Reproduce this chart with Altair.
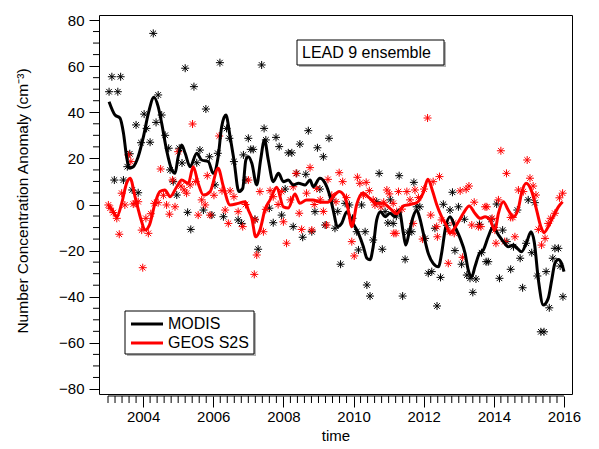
import numpy as np
import pandas as pd
import altair as alt

# ---------------------------------------------------------------------------
# MODIS monthly number-concentration anomalies (decimal year, cm^-3)
# ---------------------------------------------------------------------------
modis_time = [
    2003.03, 2003.11, 2003.18, 2003.28, 2003.36, 2003.44, 2003.55, 2003.62, 2003.69, 2003.80, 2003.86, 2003.94,
    2004.03, 2004.10, 2004.20, 2004.29, 2004.37, 2004.43, 2004.53, 2004.63, 2004.73, 2004.77, 2004.86, 2004.96,
    2005.03, 2005.11, 2005.20, 2005.27, 2005.36, 2005.45, 2005.53, 2005.62, 2005.72, 2005.79, 2005.89, 2005.96,
    2006.05, 2006.13, 2006.19, 2006.29, 2006.38, 2006.46, 2006.59, 2006.71, 2006.81, 2006.86, 2006.93,
    2007.00, 2007.07, 2007.14, 2007.19, 2007.28, 2007.38, 2007.45, 2007.50, 2007.60, 2007.71, 2007.79, 2007.88, 2007.95,
    2008.05, 2008.14, 2008.24, 2008.28, 2008.38, 2008.47, 2008.55, 2008.64, 2008.71, 2008.81, 2008.90, 2008.97,
    2009.04, 2009.14, 2009.19, 2009.30, 2009.38, 2009.47, 2009.55, 2009.63, 2009.76, 2009.88, 2009.97,
    2010.09, 2010.14, 2010.23, 2010.33, 2010.38, 2010.47, 2010.56, 2010.66, 2010.73, 2010.82, 2010.90, 2010.98,
    2011.05, 2011.13, 2011.22, 2011.30, 2011.40, 2011.47, 2011.55, 2011.66, 2011.72, 2011.80, 2011.89,
    2012.04, 2012.13, 2012.23, 2012.32, 2012.38, 2012.48, 2012.56, 2012.66, 2012.75, 2012.82, 2012.89, 2012.99,
    2013.08, 2013.16, 2013.23, 2013.32, 2013.40, 2013.49, 2013.59, 2013.65, 2013.78, 2013.84, 2013.92,
    2014.01, 2014.08, 2014.16, 2014.25, 2014.37, 2014.48, 2014.56, 2014.67, 2014.75, 2014.82, 2014.92, 2014.98,
    2015.08, 2015.17, 2015.24, 2015.34, 2015.43, 2015.49, 2015.58, 2015.68, 2015.74, 2015.84, 2015.89, 2015.97,
]
modis_value = [
    48.9, 55.4, 10.6, 48.9, 55.4, 10.6, 16.4, 22.0, 6.3, 34.5, 5.1, 26.8,
    39.2, 33.0, 27.0, 74.2, 35.6, 47.5, 38.8, 30.0, 24.4, 15.0, 9.9, 4.1,
    24.4, 18.0, 59.1, -3.4, -10.8, 51.1, 18.1, 23.6, -2.4, 41.4, 20.7, -4.6,
    8.5, 22.2, 61.5, -5.3, 33.0, 28.7, 18.6, -6.7, -8.2, 21.5, 10.6,
    28.7, 23.9, 23.9, -6.4, -19.4, 60.5, 33.0, 28.0, -1.6, -7.9, 29.1, 25.1, -4.6,
    6.7, 22.4, 22.4, -9.6, 13.5, 26.2, -14.2, 13.1, 32.0, -11.8, -3.1, 24.6,
    6.7, 20.7, -8.9, 28.7, 2.0, -10.3, -3.0, -25.9, 0.5, -0.2, -6.0,
    -11.8, -19.7, -0.2, -11.8, -34.9, -39.7, -15.4, 1.2, 13.5, -19.4, -3.1, -8.0,
    2.0, -8.2, -5.0, 12.5, -39.7, -23.8, -12.0, -11.8, 9.6, -1.0, -1.0,
    -14.7, -29.8, -29.1, -10.3, -44.0, -31.6, 0.1, -9.0, -2.4, 5.3, -20.0, -1.0,
    -25.9, -6.4, -30.6, -32.0, -38.1, -32.3, -8.6, -20.9, -24.8, -24.8, -6.4,
    -10.0, 0.2, -32.0, -11.1, -16.1, -28.1, -18.3, -2.4, -23.3, -36.1, -16.8, 2.0,
    -20.9, 0.8, -31.0, -55.2, -55.2, -29.1, -44.8, -23.3, -19.0, -19.0, -26.7, -40.0,
]

# ---------------------------------------------------------------------------
# GEOS S2S lead-9 ensemble anomalies (decimal year, cm^-3)
# ---------------------------------------------------------------------------
geos_time = [
    2003.01, 2003.06, 2003.15, 2003.25, 2003.32, 2003.39, 2003.48, 2003.58, 2003.65, 2003.72, 2003.77, 2003.86, 2003.96, 2003.99,
    2004.08, 2004.15, 2004.22, 2004.32, 2004.43, 2004.50, 2004.58, 2004.67, 2004.75, 2004.84, 2004.91,
    2005.00, 2005.08, 2005.17, 2005.24, 2005.34, 2005.41, 2005.50, 2005.57, 2005.67, 2005.77, 2005.83, 2005.91,
    2006.02, 2006.17, 2006.25, 2006.34, 2006.43, 2006.48, 2006.59, 2006.71, 2006.84, 2006.92,
    2007.00, 2007.17, 2007.19, 2007.24, 2007.33, 2007.43, 2007.50, 2007.62, 2007.71, 2007.85, 2007.95,
    2008.00, 2008.09, 2008.20, 2008.28, 2008.36, 2008.45, 2008.52, 2008.66, 2008.76, 2008.81, 2008.88, 2008.95,
    2009.05, 2009.14, 2009.23, 2009.27, 2009.38, 2009.50, 2009.59, 2009.69, 2009.80, 2009.95,
    2010.02, 2010.11, 2010.18, 2010.28, 2010.36, 2010.45, 2010.56, 2010.61, 2010.78, 2010.86, 2010.95,
    2011.02, 2011.13, 2011.15, 2011.21, 2011.23, 2011.28, 2011.38, 2011.52, 2011.61, 2011.70, 2011.75, 2011.85, 2011.97,
    2012.01, 2012.11, 2012.20, 2012.27, 2012.37, 2012.39, 2012.45, 2012.51, 2012.70, 2012.75, 2012.85, 2012.87,
    2013.04, 2013.11, 2013.21, 2013.29, 2013.37, 2013.44, 2013.56, 2013.63, 2013.75, 2013.80, 2013.95,
    2014.03, 2014.06, 2014.13, 2014.20, 2014.31, 2014.36, 2014.48, 2014.54, 2014.60, 2014.70, 2014.84, 2014.95,
    2015.03, 2015.12, 2015.20, 2015.27, 2015.36, 2015.46, 2015.55, 2015.62, 2015.74, 2015.87, 2015.96,
]
geos_value = [
    -0.2, -1.6, -3.5, -6.0, -12.9, 4.9, -0.2, 21.5, 18.6, 0.2, 0.5, 1.2, -11.1, -27.4,
    -6.0, -12.5, -4.0, 0.5, 0.8, 15.4, 4.0, -0.2, -4.2, 10.6, -1.0,
    22.9, 8.0, 6.3, 4.9, 8.5, 34.9, 10.0, -4.6, 2.0, -0.2, 12.5, -4.6,
    4.0, 29.7, 6.0, -2.4, -8.2, 5.9, 3.4, -3.1, -9.6, 0.0,
    10.6, -30.3, -6.7, -21.9, 5.6, -11.8, -2.1, 6.0, 3.4, 0.0, 5.6,
    -7.5, -16.8, 2.0, 7.7, 13.5, -3.8, -10.8, 4.9, 16.0, -11.1, 0.0, 7.0,
    2.0, -3.0, -8.9, 10.9, 4.0, 1.2, 13.8, 9.9, 3.0, -16.1,
    -22.3, 11.8, 9.2, 4.0, 9.6, 6.0, 2.0, -0.2, -1.0, 1.0, 6.3,
    4.6, 0.5, -12.5, -12.5, -3.1, 5.6, -2.0, 5.6, 2.0, -8.2, 6.3, 3.0, -15.0,
    6.7, 37.5, -4.6, 9.9, -9.6, -14.0, 12.1, -6.7, -25.5, -11.8, -8.0, -12.5,
    5.9, -22.9, 6.6, 8.0, -8.9, 1.0, -9.6, -9.6, -1.0, -1.0, -6.0,
    -11.1, -16.8, 2.0, 23.3, -16.1, 13.5, -5.6, -5.6, -14.0, 6.3, 5.6, 19.3,
    11.4, 8.0, 4.1, -10.8, -17.6, -14.7, -8.2, -6.0, -3.8, 2.9, 4.9,
]

# ---------------------------------------------------------------------------
# Smoothed curves
# ---------------------------------------------------------------------------
modis_smooth_time = [
    2003.03, 2003.20, 2003.34, 2003.44, 2003.53, 2003.61, 2003.72, 2003.86, 2004.01, 2004.15,
    2004.31, 2004.43, 2004.53, 2004.67, 2004.82, 2004.91, 2005.00, 2005.10, 2005.20, 2005.34,
    2005.53, 2005.67, 2005.86, 2006.00, 2006.14, 2006.24, 2006.36, 2006.48, 2006.59, 2006.73,
    2006.84, 2006.93, 2007.00, 2007.10, 2007.24, 2007.35, 2007.46, 2007.57, 2007.71, 2007.86,
    2008.00, 2008.14, 2008.28, 2008.43, 2008.62, 2008.76, 2008.85, 2009.04, 2009.19, 2009.33,
    2009.42, 2009.54, 2009.66, 2009.81, 2009.90, 2009.99, 2010.14, 2010.28, 2010.38, 2010.47,
    2010.56, 2010.66, 2010.77, 2010.90, 2011.04, 2011.18, 2011.30, 2011.42, 2011.49, 2011.58,
    2011.70, 2011.80, 2011.89, 2011.99, 2012.13, 2012.27, 2012.42, 2012.51, 2012.61, 2012.75,
    2012.89, 2013.04, 2013.18, 2013.27, 2013.37, 2013.46, 2013.59, 2013.70, 2013.84, 2013.98,
    2014.13, 2014.27, 2014.41, 2014.56, 2014.67, 2014.79, 2014.94, 2015.06, 2015.15, 2015.27,
    2015.41, 2015.55, 2015.65, 2015.74, 2015.84, 2015.93, 2016.00,
]
modis_smooth_value = [
    44.6, 38.8, 37.5, 31.0, 20.7, 15.8, 16.4, 20.7, 29.4, 39.5,
    46.5, 42.4, 35.2, 23.6, 15.0, 13.5, 20.7, 25.8, 22.2, 16.4,
    22.2, 19.3, 18.6, 13.5, 20.7, 33.7, 38.8, 29.4, 19.3, 5.6,
    7.0, 19.3, 20.7, 17.9, 8.5, 19.3, 28.0, 19.3, 9.9, 13.5,
    9.9, 10.6, 8.5, 9.2, 8.5, 10.6, 7.7, 11.4, 9.2, 3.4,
    -2.4, -9.6, -8.2, -3.1, -5.3, -8.2, -12.5, -18.3, -23.3, -24.0,
    -18.3, -6.7, -3.1, -5.3, -3.8, -5.3, -2.4, -12.5, -17.6, -12.5,
    -5.3, -2.4, -6.0, -12.5, -21.2, -25.5, -27.0, -21.2, -11.1, -5.3,
    -9.6, -14.7, -21.2, -28.4, -31.3, -27.0, -21.2, -19.7, -14.0, -9.6,
    -13.2, -16.1, -18.3, -17.6, -19.0, -20.5, -16.1, -11.8, -16.1, -32.7,
    -43.6, -40.7, -32.7, -25.5, -23.8, -25.5, -29.1,
]

geos_smooth_time = [
    2003.03, 2003.15, 2003.25, 2003.39, 2003.53, 2003.63, 2003.77, 2003.86, 2003.96, 2004.05,
    2004.18, 2004.34, 2004.48, 2004.62, 2004.77, 2004.96, 2005.10, 2005.29, 2005.43, 2005.57,
    2005.72, 2005.91, 2006.14, 2006.29, 2006.48, 2006.71, 2006.91, 2007.00, 2007.10, 2007.21,
    2007.33, 2007.48, 2007.62, 2007.81, 2008.00, 2008.14, 2008.33, 2008.47, 2008.66, 2008.84,
    2009.07, 2009.27, 2009.42, 2009.59, 2009.76, 2009.85, 2009.95, 2010.09, 2010.26, 2010.44,
    2010.64, 2010.84, 2011.04, 2011.23, 2011.42, 2011.61, 2011.82, 2011.99, 2012.12, 2012.25,
    2012.37, 2012.51, 2012.66, 2012.75, 2012.84, 2012.99, 2013.13, 2013.30, 2013.46, 2013.61,
    2013.75, 2013.89, 2014.03, 2014.13, 2014.27, 2014.41, 2014.56, 2014.70, 2014.79, 2014.92,
    2015.08, 2015.22, 2015.34, 2015.43, 2015.55, 2015.69, 2015.84, 2015.96,
]
geos_smooth_value = [
    -0.5, -3.1, -5.3, 0.5, 9.2, 11.4, 3.4, -2.0, -7.5, -11.1,
    -8.9, 0.5, 5.6, 6.3, 3.4, 7.7, 10.6, 9.2, 16.4, 9.2,
    4.1, 5.6, 15.7, 7.7, -0.2, 0.5, 1.2, -2.4, -6.0, -14.0,
    -11.1, -2.0, 2.0, 7.5, -1.0, -1.5, 4.5, 0.5, 2.0, 2.0,
    1.0, 1.0, 3.4, 5.6, 3.0, -2.4, -9.6, 0.0, 5.0, 3.0,
    0.5, 0.5, -1.7, -4.0, -0.6, 0.0, 1.0, 5.2, 11.0, 6.0,
    0.0, -5.3, -9.6, -12.5, -11.1, -7.5, -3.8, -0.6, -3.8, -6.0,
    -5.3, -6.7, -11.1, -3.8, 1.2, -2.4, -5.3, -1.6, 4.9, 9.2,
    5.6, -2.4, -9.6, -12.2, -9.6, -5.3, -1.0, 1.2,
]

year_ticks = [2004, 2006, 2008, 2010, 2012, 2014, 2016]
value_ticks = [-80, -60, -40, -20, 0, 20, 40, 60, 80]

# minor ticks: every 0.2 yr along time, every 5 units along the anomaly axis
minor_years = [round(y, 1) for y in np.arange(2003.0, 2016.01, 0.2)
               if abs(y - round(y)) > 0.01 or int(round(y)) % 2 == 1]
minor_values = [v for v in range(-80, 81, 5) if v % 20 != 0]

FONT = "Liberation Sans"
W, H = 473, 379
ASTERISK = "M-1,0L1,0M0,-1L0,1M-0.7,-0.7L0.7,0.7M-0.7,0.7L0.7,-0.7"
Y_TITLE = "Number Concentration Anomaly (cm⁻³)"

x_scale = alt.Scale(domain=[2002.743, 2016.228], nice=False, zero=False)
y_scale = alt.Scale(domain=[-82.17, 82.17], nice=False, zero=False)

x_axis = alt.Axis(
    values=year_ticks, format="d", offset=2, domain=False, grid=False,
    tickSize=11, tickColor="black", tickWidth=1,
    labelFontSize=15, labelColor="black", labelPadding=2, labelFlush=False, labelFont=FONT,
    title="time", titleFontSize=15, titleFontWeight="normal", titleColor="black",
    titlePadding=4, titleFont=FONT,
)
y_axis = alt.Axis(
    values=value_ticks, domain=False, grid=False,
    tickSize=10, tickColor="black", tickWidth=1,
    labelFontSize=15, labelColor="black", labelPadding=5, labelFlush=False, labelFont=FONT,
    title=Y_TITLE, titleFontSize=15.5, titleFontWeight="normal",
    titleColor="black", titleFont=FONT, titleX=-77, titleY=H / 2 - 4,
    titleAlign="center", titleBaseline="middle", titleAngle=270,
)


def xy(field_x="t", field_y="v"):
    """Shared x/y encodings so every layer maps to the same scales and axes."""
    return dict(
        x=alt.X(f"{field_x}:Q", scale=x_scale, axis=x_axis, title="time"),
        y=alt.Y(f"{field_y}:Q", scale=y_scale, axis=y_axis, title=Y_TITLE),
    )


modis_df = pd.DataFrame({"t": modis_time, "v": modis_value})
geos_df = pd.DataFrame({"t": geos_time, "v": geos_value})
modis_smooth_df = pd.DataFrame({"t": modis_smooth_time, "v": modis_smooth_value})
geos_smooth_df = pd.DataFrame({"t": geos_smooth_time, "v": geos_smooth_value})

modis_pts = alt.Chart(modis_df).mark_point(
    shape=ASTERISK, size=64, filled=False, strokeWidth=1, color="black", opacity=1
).encode(**xy())

geos_pts = alt.Chart(geos_df).mark_point(
    shape=ASTERISK, size=64, filled=False, strokeWidth=1, color="#ff0000", opacity=1
).encode(**xy())

modis_line = alt.Chart(modis_smooth_df).mark_line(
    color="black", strokeWidth=3, interpolate="monotone"
).encode(**xy())

geos_line = alt.Chart(geos_smooth_df).mark_line(
    color="#ff0000", strokeWidth=3, interpolate="monotone"
).encode(**xy())

# minor ticks and the time-axis baseline
x_minor = alt.Chart(pd.DataFrame({"t": minor_years})).mark_rule(color="black", strokeWidth=1).encode(
    x=xy()["x"], y=alt.value(H + 2), y2=alt.value(H + 9),
)
x_base = alt.Chart(pd.DataFrame({"t": [2003], "b": [2016]})).mark_rule(color="black", strokeWidth=1).encode(
    x=xy()["x"], x2="b:Q", y=alt.value(H + 2),
)
y_minor = alt.Chart(pd.DataFrame({"v": minor_values})).mark_rule(color="black", strokeWidth=1).encode(
    y=xy()["y"], x=alt.value(-6), x2=alt.value(0),
)

# annotation boxes
one = pd.DataFrame({"k": [0]})


def box(x0, y0, x1, y1):
    shadow = alt.Chart(one).mark_rect(fill="#b4b4b4", strokeWidth=0).encode(
        x=alt.value(x0 + 2), x2=alt.value(x1 + 2), y=alt.value(y0 + 2), y2=alt.value(y1 + 2))
    face = alt.Chart(one).mark_rect(fill="white", stroke="black", strokeWidth=1).encode(
        x=alt.value(x0), x2=alt.value(x1), y=alt.value(y0), y2=alt.value(y1))
    return [shadow, face]


def label(txt, x, y, size=16):
    return alt.Chart(one).mark_text(
        text=txt, align="left", baseline="middle", fontSize=size, font=FONT, color="black"
    ).encode(x=alt.value(x), y=alt.value(y))


def swatch(color, y):
    return alt.Chart(one).mark_rule(color=color, strokeWidth=3).encode(
        x=alt.value(32), x2=alt.value(64), y=alt.value(y))


title_box = box(198, 25, 345, 50) + [label("LEAD 9 ensemble", 203, 38)]
legend_box = box(26, 296, 155, 339) + [
    swatch("black", 309), label("MODIS", 69, 309),
    swatch("#ff0000", 328), label("GEOS S2S", 69, 328),
]

chart = alt.layer(
    modis_pts, geos_pts, modis_line, geos_line,
    x_minor, x_base, y_minor,
    *title_box, *legend_box,
).properties(
    width=W, height=H,
    padding={"left": 99, "top": 15, "right": 27, "bottom": 55},
    autosize="none",
).configure(font=FONT).configure_view(stroke="black", strokeWidth=1)

chart.save("out.html", embed_options={"renderer": "svg", "actions": False})
